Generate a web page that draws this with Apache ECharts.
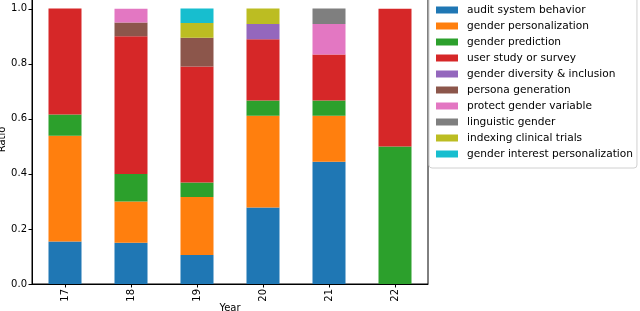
<!DOCTYPE html>
<html>
<head>
<meta charset="utf-8">
<script src="https://cdn.jsdelivr.net/npm/echarts@6/dist/echarts.min.js"></script>
<style>html,body{margin:0;padding:0;background:#fff;}#c{width:640px;height:311px;}</style>
</head>
<body>
<div id="c"></div>
<script>
const years = ['17', '18', '19', '20', '21', '22'];
const seriesNames = ['audit system behavior', 'gender personalization', 'gender prediction', 'user study or survey', 'gender diversity & inclusion', 'persona generation', 'protect gender variable', 'linguistic gender', 'indexing clinical trials', 'gender interest personalization'];
const colors = ['#1f77b4', '#ff7f0e', '#2ca02c', '#d62728', '#9467bd', '#8c564b', '#e377c2', '#7f7f7f', '#bcbd22', '#17becf'];
const auditSystem = [0.154, 0.15, 0.105, 0.278, 0.444, 0];
const genderPersonalization = [0.385, 0.15, 0.211, 0.333, 0.167, 0];
const genderPrediction = [0.077, 0.10, 0.053, 0.056, 0.056, 0.5];
const userStudy = [0.385, 0.50, 0.421, 0.222, 0.167, 0.5];
const genderDiversity = [0, 0, 0, 0.056, 0, 0];
const personaGeneration = [0, 0.05, 0.105, 0, 0, 0];
const protectGender = [0, 0.05, 0, 0, 0.111, 0];
const linguisticGender = [0, 0, 0, 0, 0.056, 0];
const indexingTrials = [0, 0, 0.053, 0.056, 0, 0];
const interestPersonalization = [0, 0, 0.053, 0, 0, 0];
const yTicks = [0, 0.2, 0.4, 0.6, 0.8, 1.0];

const allData = [auditSystem, genderPersonalization, genderPrediction, userStudy, genderDiversity, personaGeneration, protectGender, linguisticGender, indexingTrials, interestPersonalization];
const font = 'DejaVu Sans';
const chart = echarts.init(document.getElementById('c'), null, {renderer: 'canvas'});
chart.setOption({
  animation: false,
  textStyle: {fontFamily: font},
  grid: {left: 32, right: 212, top: -5, bottom: 27, outerBoundsMode: 'none', containLabel: false, show: true, borderColor: '#000', borderWidth: 1, backgroundColor: 'transparent'},
  legend: {
    orient: 'vertical', left: 429, top: -10,
    data: seriesNames,
    icon: 'rect', itemWidth: 22, itemHeight: 7, itemGap: 2,
    padding: [13, 4, 7, 7],
    borderColor: '#d0d0d0', borderWidth: 1, borderRadius: 3,
    backgroundColor: '#fff',
    textStyle: {fontFamily: font, fontSize: 10.6, color: '#000', lineHeight: 14, padding: [0, 0, 0, 4]}
  },
  xAxis: {
    type: 'category', data: years,
    name: 'Year', nameLocation: 'middle', nameGap: 19, nameMoveOverlap: false,
    nameTextStyle: {fontFamily: font, fontSize: 10, color: '#000'},
    axisLine: {show: true, lineStyle: {color: '#000', width: 1}},
    axisTick: {show: true, alignWithLabel: true, length: 3.5, lineStyle: {color: '#000'}},
    axisLabel: {rotate: 90, fontFamily: font, fontSize: 10, color: '#000', margin: 5}
  },
  yAxis: {
    type: 'value', min: 0, max: 1.05, interval: 0.2,
    name: 'Ratio', nameLocation: 'middle', nameGap: 25, nameMoveOverlap: false,
    nameTextStyle: {fontFamily: font, fontSize: 10, color: '#000'},
    axisLine: {show: true, lineStyle: {color: '#000', width: 1}},
    axisTick: {show: true, length: 3.5, lineStyle: {color: '#000'}},
    splitLine: {show: false},
    axisLabel: {fontFamily: font, fontSize: 10, color: '#000', margin: 5,
      formatter: function (v) { return yTicks.some(t => Math.abs(t - v) < 1e-6) ? v.toFixed(1) : ''; }}
  },
  series: seriesNames.map((n, i) => ({
    name: n, type: 'bar', stack: 'total', barWidth: '50%',
    itemStyle: {color: colors[i]},
    data: allData[i]
  }))
});
</script>
</body>
</html>
